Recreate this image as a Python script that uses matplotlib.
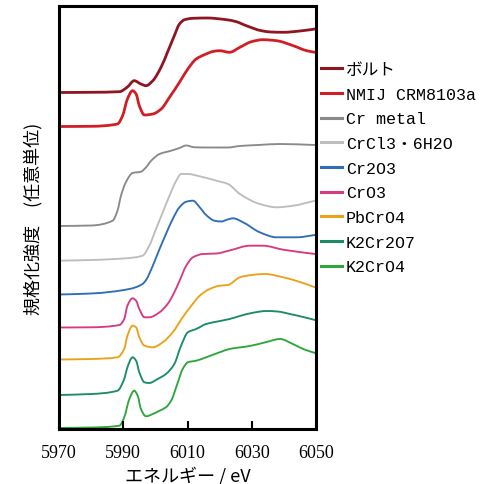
import matplotlib
matplotlib.use("Agg")
import matplotlib.pyplot as plt
from matplotlib.path import Path
from matplotlib.patches import PathPatch
from matplotlib.lines import Line2D
import numpy as np

# XANES spectra (Cr K-edge), offset intensities in arbitrary units
samples = ["ボルト", "NMIJ CRM8103a", "Cr metal", "CrCl3・6H2O", "Cr2O3",
           "CrO3", "PbCrO4", "K2Cr2O7", "K2CrO4"]
colors = ["#8E1622", "#D01E24", "#8A8A8A", "#BDBDBD", "#2F6DB5",
          "#D63A80", "#E9A31B", "#1B8C66", "#2FA63B"]
widths = [2.0, 2.0, 1.35, 1.35, 1.35, 1.35, 1.35, 1.35, 1.35]

top = 430  # intensity = top - picture height
bolt_e = [5970, 5980, 5988.8, 5991.3, 5993.4, 5995.5, 5997.1, 5999.2, 6001.8, 6003.8, 6005.9,
          6007.5, 6009.1, 6011.7, 6016, 6022.1, 6025, 6028.3, 6033, 6036, 6039.8, 6045, 6049.7]
bolt_y = [93.5, 93.3, 92.7, 88, 81.7, 85, 86.7, 81.7, 68, 53, 36.7, 25, 20.7, 19.3, 19, 20.7,
          22.5, 26.7, 31.7, 33, 33.3, 32, 30]
nmij_e = [5970, 5980, 5988.2, 5989.8, 5991.3, 5992.9, 5994, 5995, 5996.6, 5999.2, 6001.8, 6004.4,
          6007.5, 6010.1, 6012.7, 6015.8, 6017.9, 6020, 6023.1, 6026.3, 6029.9, 6033.5, 6037.7,
          6042.9, 6047.1, 6049.7]
nmij_y = [127.5, 127.3, 125, 116.7, 100, 91.7, 95, 106.7, 116, 115, 110, 98.3, 83.3, 70, 60,
          55, 52.5, 51.7, 53.3, 48.3, 42.7, 40.7, 41.7, 46.7, 51.7, 53.3]
crm_e = [5970, 5980, 5986.7, 5988.2, 5989.3, 5990.8, 5992.9, 5995.5, 5997.1, 5998.7, 6001.3,
         6004.9, 6007.5, 6009.6, 6012.2, 6016.9, 6022.5, 6026.3, 6032, 6038.8, 6049.7]
crm_y = [227, 226.5, 221.7, 211.7, 196.7, 183.3, 174, 172.7, 168.3, 161.7, 155, 151.7, 149,
         146.5, 148.3, 148.5, 148.5, 147, 146, 145, 146]
crcl_e = [5970, 5980, 5990.8, 5996, 5998.1, 6000.2, 6002.3, 6004.4, 6006.5, 6008, 6010.1,
          6013.8, 6019, 6022.6, 6026.3, 6032.5, 6037.7, 6042.9, 6049.7]
crcl_y = [261.7, 261, 259.3, 256.7, 246.7, 230, 213.3, 196.7, 181.7, 175, 175, 177.3, 181.7,
          185, 195, 205, 208.3, 206.7, 201.7]
cr2o3_e = [5970, 5980, 5991.9, 5996, 5997.1, 5999.2, 6001.3, 6003.3, 6005.4, 6007.5, 6009.6,
           6011.7, 6013.8, 6015.8, 6018.4, 6020.5, 6022.5, 6024.2, 6027.3, 6032.5, 6037.7, 6044,
           6049.7]
cr2o3_y = [295.5, 294.5, 290, 285, 281, 266.7, 250, 235, 220, 208.3, 202.7, 201.7, 208.3, 216,
           221.7, 222.5, 220.5, 219.3, 223.3, 233.3, 238.3, 238.3, 236]
cro3_e = [5970, 5980, 5988.8, 5990.3, 5991.3, 5992.9, 5994, 5995, 5996.6, 5998.1, 6001.3, 6003.8,
          6005.9, 6007.5, 6009.6, 6011.7, 6014.8, 6019, 6023.1, 6029.4, 6033.5, 6039.8, 6049.7]
cro3_y = [328.5, 328.3, 326, 320, 306.7, 299.3, 301.7, 310, 318.3, 318.3, 313.3, 305, 293.3,
          282, 266.7, 258.3, 255, 254.5, 251.5, 246.7, 246.7, 250.7, 255]
pb_e = [5970, 5980, 5988.2, 5990.3, 5991.3, 5992.9, 5994, 5995, 5996.6, 5999.2, 6002.3, 6005.4,
        6008.5, 6011.2, 6013.8, 6016.9, 6020, 6022.6, 6026.3, 6030, 6034.1, 6039.8, 6045, 6049.7]
pb_y = [360.5, 360, 358.3, 350, 336.7, 326.7, 328.3, 338.3, 346.7, 348.3, 343.3, 333.3, 318.3,
        306.7, 296.7, 290, 286.7, 286, 278.3, 276, 275, 278.3, 283, 288.3]
k2cr2o7_e = [5970, 5980, 5988.2, 5990.3, 5991.3, 5992.9, 5994, 5995, 5996.6, 5998.1, 6000.7,
             6003.3, 6005.9, 6008, 6010.1, 6012.7, 6015.8, 6019, 6023.1, 6026.3, 6030, 6034.6,
             6038, 6041.9, 6046, 6049.7]
k2cr2o7_y = [396, 395, 391.7, 380, 368.3, 358.3, 361.7, 373.3, 383.3, 384, 380, 375, 365, 346.7,
             333.3, 330, 325, 322.7, 320, 317, 314, 312, 312.5, 315, 318, 321]
k2cro4_e = [5970, 5980, 5988.8, 5990.3, 5991.9, 5993.4, 5994.5, 5995.5, 5997.1, 5999.2, 6001.3,
            6003.3, 6004.9, 6007, 6008.5, 6010.1, 6012.7, 6015.8, 6020, 6023.1, 6029.4, 6034.6,
            6038.8, 6042.8, 6046, 6049.7]
k2cro4_y = [429, 428.5, 426.7, 418.3, 400, 391.7, 396.7, 410, 417.3, 415, 411.7, 408.3, 401.7,
            383.3, 370, 363.3, 361.7, 358.3, 353.3, 350, 347, 343, 340, 345, 350, 354]

energies = [bolt_e, nmij_e, crm_e, crcl_e, cr2o3_e, cro3_e, pb_e, k2cr2o7_e, k2cro4_e]
heights = [bolt_y, nmij_y, crm_y, crcl_y, cr2o3_y, cro3_y, pb_y, k2cr2o7_y, k2cro4_y]

xticks = [5970, 5990, 6010, 6030, 6050]


def smooth_path(x, y):
    # cubic Hermite (monotone slopes) through the read points, drawn as Bezier segments
    x = np.asarray(x, float)
    y = np.asarray(y, float)
    h = np.diff(x)
    d = np.diff(y) / h
    m = np.empty_like(y)
    m[0], m[-1] = d[0], d[-1]
    for i in range(1, len(x) - 1):
        if d[i - 1] * d[i] <= 0:
            m[i] = 0.0
        else:
            w1 = 2 * h[i] + h[i - 1]
            w2 = h[i] + 2 * h[i - 1]
            m[i] = (w1 + w2) / (w1 / d[i - 1] + w2 / d[i])
    verts = [(x[0], y[0])]
    codes = [Path.MOVETO]
    for i in range(len(x) - 1):
        t = h[i] / 3
        verts += [(x[i] + t, y[i] + m[i] * t), (x[i + 1] - t, y[i + 1] - m[i + 1] * t),
                  (x[i + 1], y[i + 1])]
        codes += [Path.CURVE4] * 3
    return Path(verts, codes)


fig = plt.figure(figsize=(4.92, 4.85), dpi=100)
ax = fig.add_axes([59 / 492, 55 / 485, 257 / 492, 423 / 485])

handles = []
for name, e, h, c, w in zip(samples, energies, heights, colors, widths):
    path = smooth_path(e, top - np.array(h))
    ax.add_patch(PathPatch(path, fill=False, edgecolor=c, lw=w, joinstyle="round",
                           capstyle="round"))
    handles.append(Line2D([], [], color=c, lw=2.2, label=name))

ax.set_xlim(5970, 6050)
ax.set_ylim(0, 423)
ax.set_xticks(xticks)
ax.set_xticklabels([str(t) for t in xticks], family="Liberation Serif", fontsize=13)
ax.set_yticks([])
ax.tick_params(axis="x", direction="in", length=6, width=1.5, pad=11)
for s in ax.spines.values():
    s.set_linewidth(2.2)

ax.set_xlabel("エネルギー / eV", family=["Noto Sans CJK JP"], fontsize=13, labelpad=3)
ax.set_ylabel("規格化強度　(任意単位)", family=["Noto Sans CJK JP"], fontsize=13, labelpad=12)

ax.legend(handles=handles, loc="upper left", bbox_to_anchor=(321 / 492, 1 - 63 / 485),
          bbox_transform=fig.transFigure, frameon=False, borderpad=0, borderaxespad=0,
          handlelength=1.25, handletextpad=0.25, labelspacing=0.58,
          prop={"family": ["Liberation Mono", "Noto Sans CJK JP"], "size": 12})

fig.savefig("out.png", dpi=100)
